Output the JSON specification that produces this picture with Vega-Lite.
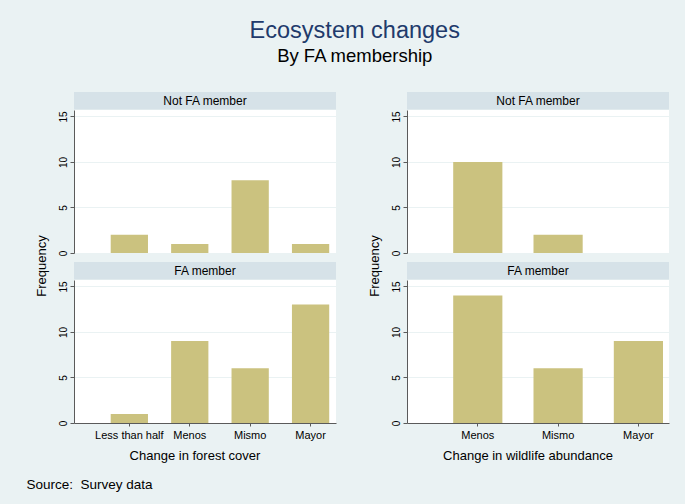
{
  "$schema": "https://vega.github.io/schema/vega-lite/v6.json",
  "background": "#EAF2F3",
  "padding": {"left": 26, "top": 18, "right": 20, "bottom": 16},
  "title": {
    "text": "Ecosystem changes",
    "subtitle": "By FA membership",
    "fontSize": 23.5,
    "subtitleFontSize": 18.5,
    "color": "#213A6B",
    "subtitleColor": "#000000",
    "fontWeight": "normal",
    "subtitleFontWeight": "normal",
    "anchor": "middle",
    "offset": 27,
    "subtitlePadding": 4.5,
    "dx": 7
  },
  "datasets": {
    "forest": [
      {"group": "Not FA member", "change": "Less than half", "n": 2},
      {"group": "Not FA member", "change": "Menos", "n": 1},
      {"group": "Not FA member", "change": "Mismo", "n": 8},
      {"group": "Not FA member", "change": "Mayor", "n": 1},
      {"group": "FA member", "change": "Less than half", "n": 1},
      {"group": "FA member", "change": "Menos", "n": 9},
      {"group": "FA member", "change": "Mismo", "n": 6},
      {"group": "FA member", "change": "Mayor", "n": 13}
    ],
    "wildlife": [
      {"group": "Not FA member", "change": "Menos", "n": 10},
      {"group": "Not FA member", "change": "Mismo", "n": 2},
      {"group": "Not FA member", "change": "Mayor", "n": 0},
      {"group": "FA member", "change": "Menos", "n": 14},
      {"group": "FA member", "change": "Mismo", "n": 6},
      {"group": "FA member", "change": "Mayor", "n": 9}
    ],
    "stripNot": [{"panel": "Not FA member"}],
    "stripFA": [{"panel": "FA member"}]
  },
  "vconcat": [
    {
      "title": {
        "text": "Source: \u00a0Survey data",
        "orient": "bottom",
        "anchor": "start",
        "fontSize": 13.5,
        "fontWeight": "normal",
        "color": "#000000",
        "offset": 16,
        "dx": -9.5
      },
      "spacing": 32,
      "hconcat": [
        {
          "title": {"text": "Frequency", "orient": "left", "anchor": "middle", "fontSize": 13, "fontWeight": "normal", "color": "#000000", "offset": 9, "dx": 11},
          "spacing": 6,
          "vconcat": [
            {
              "spacing": 0,
              "vconcat": [
                {
                  "data": {"name": "stripNot"},
                  "width": 262, "height": 17.5,
                  "view": {"fill": "#D6E2E8", "stroke": null},
                  "mark": {"type": "text", "fontSize": 12, "color": "#000000"},
                  "encoding": {"text": {"field": "panel"}}
                },
                {
                  "data": {"name": "forest"},
                  "transform": [{"filter": "datum.group === 'Not FA member'"}],
                  "width": 262, "height": 143,
                  "view": {"fill": "#FFFFFF", "stroke": null},
                  "mark": {"type": "bar", "color": "#CBC27F"},
                  "encoding": {
                    "x": {"field": "change", "type": "nominal", "axis": null,
                      "scale": {"domain": ["Less than half", "Menos", "Mismo", "Mayor"], "paddingInner": 0.383, "paddingOuter": 0.36, "align": 0.844}},
                    "y": {"field": "n", "type": "quantitative",
                      "scale": {"domain": [0, 15.7], "nice": false},
                      "axis": {"values": [0, 5, 10, 15], "title": null}}
                  }
                }
              ]
            },
            {
              "spacing": 0,
              "vconcat": [
                {
                  "data": {"name": "stripFA"},
                  "width": 262, "height": 17.5,
                  "view": {"fill": "#D6E2E8", "stroke": null},
                  "mark": {"type": "text", "fontSize": 12, "color": "#000000"},
                  "encoding": {"text": {"field": "panel"}}
                },
                {
                  "data": {"name": "forest"},
                  "transform": [{"filter": "datum.group === 'FA member'"}],
                  "width": 262, "height": 143,
                  "view": {"fill": "#FFFFFF", "stroke": null},
                  "mark": {"type": "bar", "color": "#CBC27F"},
                  "encoding": {
                    "x": {"field": "change", "type": "nominal",
                      "scale": {"domain": ["Less than half", "Menos", "Mismo", "Mayor"], "paddingInner": 0.383, "paddingOuter": 0.36, "align": 0.844},
                      "axis": {"title": "Change in forest cover", "labelAngle": 0, "labelFontSize": 11, "titleFontSize": 13, "tickSize": 3, "labelPadding": 3, "titlePadding": 9, "titleX": 120.5, "labelOverlap": false, "grid": false}},
                    "y": {"field": "n", "type": "quantitative",
                      "scale": {"domain": [0, 15.7], "nice": false},
                      "axis": {"values": [0, 5, 10, 15], "title": null}}
                  }
                }
              ]
            }
          ]
        },
        {
          "title": {"text": "Frequency", "orient": "left", "anchor": "middle", "fontSize": 13, "fontWeight": "normal", "color": "#000000", "offset": 9, "dx": 11},
          "spacing": 6,
          "vconcat": [
            {
              "spacing": 0,
              "vconcat": [
                {
                  "data": {"name": "stripNot"},
                  "width": 262, "height": 17.5,
                  "view": {"fill": "#D6E2E8", "stroke": null},
                  "mark": {"type": "text", "fontSize": 12, "color": "#000000"},
                  "encoding": {"text": {"field": "panel"}}
                },
                {
                  "data": {"name": "wildlife"},
                  "transform": [{"filter": "datum.group === 'Not FA member'"}],
                  "width": 262, "height": 143,
                  "view": {"fill": "#FFFFFF", "stroke": null},
                  "mark": {"type": "bar", "color": "#CBC27F"},
                  "encoding": {
                    "x": {"field": "change", "type": "nominal", "axis": null,
                      "scale": {"domain": ["Menos", "Mismo", "Mayor"], "paddingInner": 0.3875, "paddingOuter": 0.325, "align": 0.885}},
                    "y": {"field": "n", "type": "quantitative",
                      "scale": {"domain": [0, 15.7], "nice": false},
                      "axis": {"values": [0, 5, 10, 15], "title": null}}
                  }
                }
              ]
            },
            {
              "spacing": 0,
              "vconcat": [
                {
                  "data": {"name": "stripFA"},
                  "width": 262, "height": 17.5,
                  "view": {"fill": "#D6E2E8", "stroke": null},
                  "mark": {"type": "text", "fontSize": 12, "color": "#000000"},
                  "encoding": {"text": {"field": "panel"}}
                },
                {
                  "data": {"name": "wildlife"},
                  "transform": [{"filter": "datum.group === 'FA member'"}],
                  "width": 262, "height": 143,
                  "view": {"fill": "#FFFFFF", "stroke": null},
                  "mark": {"type": "bar", "color": "#CBC27F"},
                  "encoding": {
                    "x": {"field": "change", "type": "nominal",
                      "scale": {"domain": ["Menos", "Mismo", "Mayor"], "paddingInner": 0.3875, "paddingOuter": 0.325, "align": 0.885},
                      "axis": {"title": "Change in wildlife abundance", "labelAngle": 0, "labelFontSize": 11, "titleFontSize": 13, "tickSize": 3, "labelPadding": 3, "titlePadding": 9, "titleX": 120.5, "labelOverlap": false, "grid": false}},
                    "y": {"field": "n", "type": "quantitative",
                      "scale": {"domain": [0, 15.7], "nice": false},
                      "axis": {"values": [0, 5, 10, 15], "title": null}}
                  }
                }
              ]
            }
          ]
        }
      ]
    }
  ],
  "config": {
    "font": "Liberation Sans",
    "view": {"stroke": null},
    "title": {"font": "Liberation Sans", "subtitleFont": "Liberation Sans"},
    "axis": {
      "labelFont": "Liberation Sans",
      "titleFont": "Liberation Sans",
      "titleFontWeight": "normal",
      "labelColor": "#000000",
      "titleColor": "#000000",
      "domainColor": "#5A5A5A",
      "tickColor": "#5A5A5A",
      "domainWidth": 1,
      "tickWidth": 1
    },
    "axisY": {
      "labelAngle": 270,
      "labelAlign": "center",
      "labelBaseline": "alphabetic",
      "labelFontSize": 10,
      "tickSize": 4,
      "labelPadding": 4,
      "grid": true,
      "gridColor": "#EAF2F3",
      "gridWidth": 1
    }
  }
}
